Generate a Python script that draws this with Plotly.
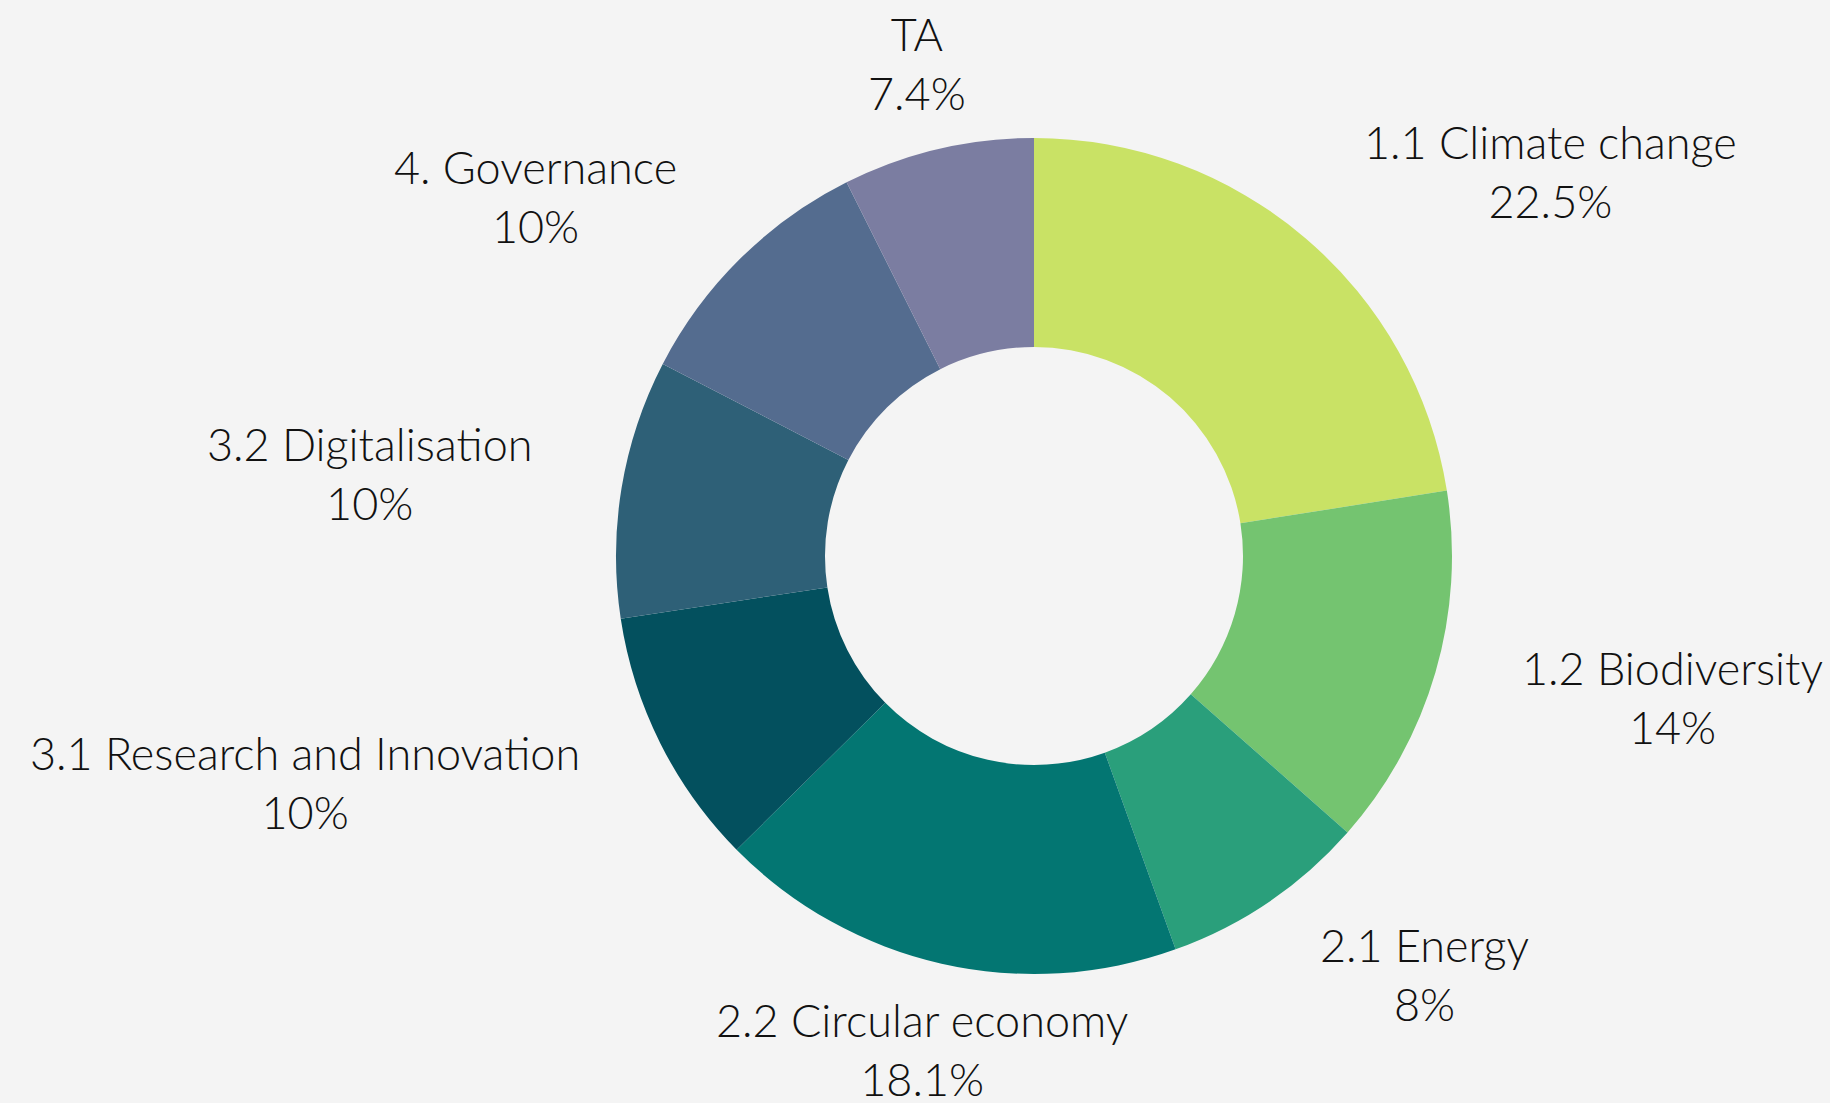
import math
import plotly.graph_objects as go

categories = ["1.1 Climate change", "1.2 Biodiversity", "2.1 Energy", "2.2 Circular economy",
              "3.1 Research and Innovation", "3.2 Digitalisation", "4. Governance", "TA"]
values = [22.5, 14, 8, 18.1, 10, 10, 10, 7.4]
value_labels = ["22.5%", "14%", "8%", "18.1%", "10%", "10%", "10%", "7.4%"]
colors = ["#C9E265", "#74C470", "#2A9F7B", "#037672", "#03505E", "#2E6077", "#546C8F", "#7B7DA1"]

W, H = 1830, 1103
cx, cy = 1034, 556          # pixel centre (from top)
R = 418                     # outer radius px
LABEL_R = 1.21 * R          # label anchor radius

fig = go.Figure(go.Pie(
    labels=categories, values=values, hole=0.5, sort=False, direction="clockwise",
    rotation=0, marker=dict(colors=colors, line=dict(width=0)),
    textinfo="none", hoverinfo="label+percent", showlegend=False,
    domain=dict(x=[(cx - R) / W, (cx + R) / W], y=[(H - cy - R) / H, (H - cy + R) / H]),
))

total = sum(values)
cum = 0
for cat, v, lab in zip(categories, values, value_labels):
    mid = (cum + v / 2) / total * 2 * math.pi
    cum += v
    s, c = math.sin(mid), math.cos(mid)
    xa = "left" if s > 0.4 else ("right" if s < -0.4 else "center")
    px = cx + LABEL_R * s
    py = (H - cy) + LABEL_R * c
    fig.add_annotation(
        x=px / W, y=py / H, xref="paper", yref="paper", showarrow=False,
        text=f"{cat}<br>{lab}", xanchor=xa, yanchor="middle", align="center",
        font=dict(family="Lato", size=45, color="#111111", weight=300),
    )

fig.update_layout(
    width=W, height=H, margin=dict(l=0, r=0, t=0, b=0),
    paper_bgcolor="#F4F4F4", plot_bgcolor="#F4F4F4",
)
fig.write_html("out.html", config={"displayModeBar": False},
               post_script="document.body.style.margin='0';document.body.style.background='#F4F4F4';")
